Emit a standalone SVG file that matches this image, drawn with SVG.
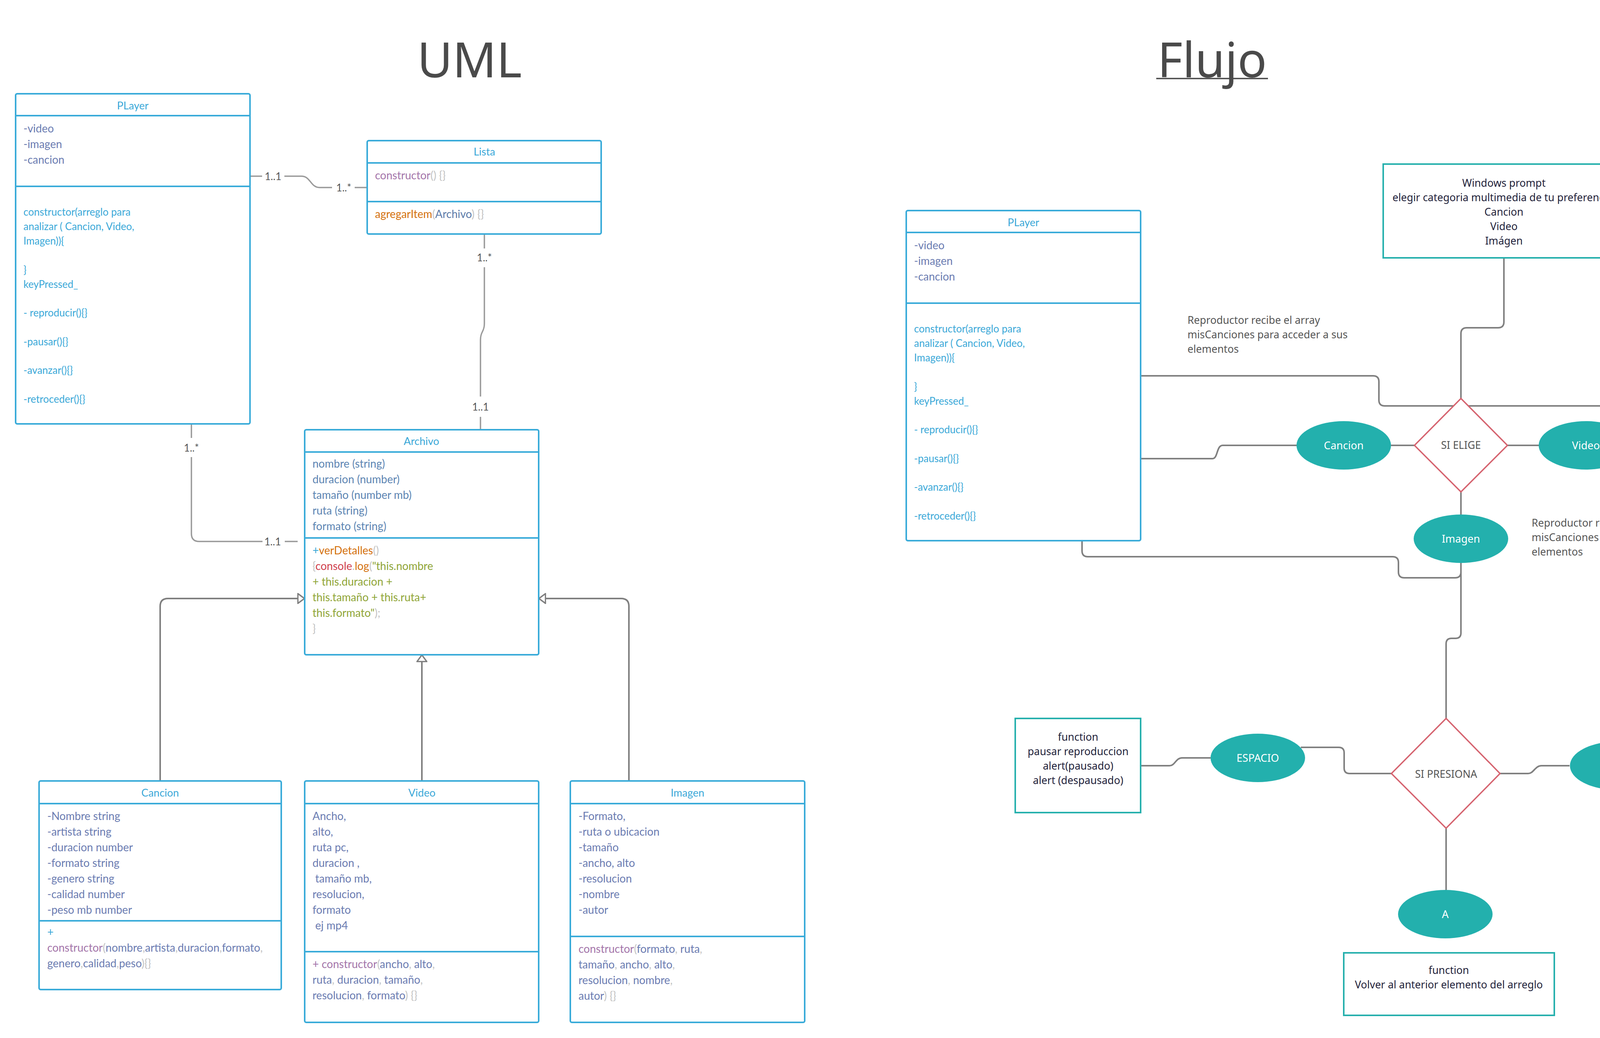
<svg xmlns="http://www.w3.org/2000/svg" width="4880" height="2657" viewBox="0 0 4880 2657">
<defs>
<style>
.box{fill:#fff;stroke:#39abd9;stroke-width:4}
.dv{stroke:#39abd9;stroke-width:4}
.t{font-family:Lato,"Open Sans",sans-serif;font-size:28px}
.s26{font-size:26px}
.hd{font-family:Lato,"Open Sans",sans-serif;font-size:27px;fill:#3aa8d8;text-anchor:middle}
.sl{fill:#6a7bb1}
.sa{fill:#5b84b2}
.sb{fill:#5b7aa8}
.bl{fill:#3aa8d8}
.mv{fill:#a374a9}
.gr{fill:#c2c2c2}
.or{fill:#d4700c}
.rd{fill:#cf3e4c}
.ol{fill:#8fa536}
.lbl{font-family:Lato,"Open Sans",sans-serif;font-size:26px;fill:#555;text-anchor:middle}
.as{fill:none;stroke:#9a9a9a;stroke-width:3.5}
.ih{fill:none;stroke:#7f7f7f;stroke-width:4}
.fl{fill:none;stroke:#808080;stroke-width:4}
.tb{fill:#fff;stroke:#26b0ad;stroke-width:4}
.dm{fill:#fff;stroke:#d5636f;stroke-width:3.5}
.el{fill:#23b0ad}
.n{font-family:"Noto Sans","Open Sans",sans-serif;font-size:26.5px}
.nw{fill:#fff;text-anchor:middle;font-size:27px}
.nd{fill:#1f1f3a;text-anchor:middle}
.ng{fill:#555}
.ttl{font-family:"Noto Sans","Open Sans",sans-serif;font-size:124px;fill:#4a4a4a;text-anchor:middle}
</style>
<marker id="tri" viewBox="0 0 20 28" refX="19" refY="14" markerWidth="20" markerHeight="28" orient="auto" markerUnits="userSpaceOnUse">
<path d="M1.5,1.5 L18.5,14 L1.5,26.5 Z" fill="#fff" stroke="#7f7f7f" stroke-width="3.5"/>
</marker>
<g id="playerClass">
<rect class="box" x="40" y="240" width="600" height="845" rx="4"/>
<line class="dv" x1="40" y1="296" x2="640" y2="296"/>
<line class="dv" x1="40" y1="477" x2="640" y2="477"/>
<text class="hd" x="340" y="280">PLayer</text>
<text class="t sl" x="60" y="339">-video</text>
<text class="t sl" x="60" y="379">-imagen</text>
<text class="t sl" x="60" y="419">-cancion</text>
<text class="t s26 bl" x="60" y="552">constructor(arreglo para</text>
<text class="t s26 bl" x="60" y="589">analizar ( Cancion, Video,</text>
<text class="t s26 bl" x="60" y="626">Imagen)){</text>
<text class="t s26 bl" x="60" y="700">}</text>
<text class="t s26 bl" x="60" y="737">keyPressed_</text>
<text class="t s26 bl" x="60" y="810">- reproducir(){}</text>
<text class="t s26 bl" x="60" y="884">-pausar(){}</text>
<text class="t s26 bl" x="60" y="957">-avanzar(){}</text>
<text class="t s26 bl" x="60" y="1031">-retroceder(){}</text>
</g>
</defs>

<g id="titles">
<text class="ttl" x="1202" y="198">UML</text>
<text class="ttl" x="3103" y="198">Flujo</text>
<line x1="2960" y1="201" x2="3246" y2="201" stroke="#4a4a4a" stroke-width="3.5"/>
</g>

<g id="connectors">
<path class="as" d="M640 451 H671"/>
<path class="as" d="M728 451 H772 C795 451 795 480 818 480 H850"/>
<path class="as" d="M908 480 H940"/>
<path class="as" d="M1240 599 V636"/>
<path class="as" d="M1240 684 V828 C1240 850 1230 848 1230 870 V1015"/>
<path class="as" d="M1230 1067 V1100"/>
<path class="as" d="M490 1085 V1121"/>
<path class="as" d="M490 1170 V1366 Q490 1386 510 1386 H672"/>
<path class="as" d="M729 1386 H762"/>
<text class="lbl" x="699" y="461">1..1</text>
<text class="lbl" x="880" y="490">1..*</text>
<text class="lbl" x="1240" y="669">1..*</text>
<text class="lbl" x="1230" y="1051">1..1</text>
<text class="lbl" x="490" y="1156">1..*</text>
<text class="lbl" x="698" y="1396">1..1</text>
<path class="ih" d="M410 1999 V1552 Q410 1532 430 1532 H780" marker-end="url(#tri)"/>
<path class="ih" d="M1610 1999 V1552 Q1610 1532 1590 1532 H1379" marker-end="url(#tri)"/>
<path class="ih" d="M1080 1999 V1676" marker-end="url(#tri)"/>

<path class="fl" d="M2920 962 H3515 Q3530 962 3530 977 V1024 Q3530 1039 3545 1039 H4190 Q4205 1039 4205 1054 V1098 Q4205 1112 4191 1112 H4167"/>
<path class="fl" d="M2920 1174 H3104 C3118 1174 3114 1140 3130 1140 H3320"/>
<path class="fl" d="M3561 1140 H3621"/>
<path class="fl" d="M3859 1140 H3940"/>
<path class="fl" d="M3850 660 V824 Q3850 839 3835 839 H3755 Q3740 839 3740 854 V1020"/>
<path class="fl" d="M3740 1259 V1317"/>
<path class="fl" d="M2770 1384 V1410 Q2770 1425 2785 1425 H3565 Q3580 1425 3580 1440 V1464 Q3580 1479 3595 1479 H3725 Q3740 1479 3740 1464 V1441"/>
<path class="fl" d="M3740 1441 V1620 Q3740 1634 3726 1634 H3716 Q3702 1634 3702 1648 V1839"/>
<path class="fl" d="M2920 1960 H2994 C3008 1960 3010 1940 3026 1940 H3099"/>
<path class="fl" d="M3330 1913 H3427 Q3441 1913 3441 1927 V1966 Q3441 1980 3455 1980 H3562"/>
<path class="fl" d="M3840 1980 H3912 C3926 1980 3930 1960 3946 1960 H4018"/>
<path class="fl" d="M3702 2120 V2278"/>
</g>

<g id="uml-player"><use href="#playerClass"/></g>

<g id="uml-lista">
<rect class="box" x="940" y="360" width="599" height="239" rx="4"/>
<line class="dv" x1="940" y1="417" x2="1539" y2="417"/>
<line class="dv" x1="940" y1="516" x2="1539" y2="516"/>
<text class="hd" x="1240" y="398">Lista</text>
<text class="t" x="960" y="459"><tspan class="mv">constructor</tspan><tspan class="gr">() {}</tspan></text>
<text class="t" x="960" y="558"><tspan class="or">agregarItem</tspan><tspan class="gr">(</tspan><tspan class="sb">Archivo</tspan><tspan class="gr">) {}</tspan></text>
</g>

<g id="uml-archivo">
<rect class="box" x="780" y="1100" width="599" height="576" rx="4"/>
<line class="dv" x1="780" y1="1157" x2="1379" y2="1157"/>
<line class="dv" x1="780" y1="1377" x2="1379" y2="1377"/>
<text class="hd" x="1079" y="1139">Archivo</text>
<text class="t sa" x="800" y="1197">nombre (string)</text>
<text class="t sa" x="800" y="1237">duracion (number)</text>
<text class="t sa" x="800" y="1277">tamaño (number mb)</text>
<text class="t sa" x="800" y="1317">ruta (string)</text>
<text class="t sa" x="800" y="1357">formato (string)</text>
<text class="t" x="800" y="1419"><tspan class="bl">+</tspan><tspan class="or">verDetalles</tspan><tspan class="gr">()</tspan></text>
<text class="t" x="800" y="1459"><tspan class="gr">{</tspan><tspan class="rd">console</tspan><tspan class="gr">.</tspan><tspan class="or">log</tspan><tspan class="gr">(</tspan><tspan class="ol">"this.nombre</tspan></text>
<text class="t ol" x="800" y="1499">+ this.duracion +</text>
<text class="t ol" x="800" y="1539">this.tamaño + this.ruta+</text>
<text class="t" x="800" y="1579"><tspan class="ol">this.formato"</tspan><tspan class="gr">);</tspan></text>
<text class="t gr" x="800" y="1619">}</text>
</g>

<g id="uml-cancion">
<rect class="box" x="100" y="1999" width="620" height="534" rx="4"/>
<line class="dv" x1="100" y1="2057" x2="720" y2="2057"/>
<line class="dv" x1="100" y1="2357" x2="720" y2="2357"/>
<text class="hd" x="410" y="2039">Cancion</text>
<text class="t sl" x="121" y="2099">-Nombre string</text>
<text class="t sl" x="121" y="2139">-artista string</text>
<text class="t sl" x="121" y="2179">-duracion number</text>
<text class="t sl" x="121" y="2219">-formato string</text>
<text class="t sl" x="121" y="2259">-genero string</text>
<text class="t sl" x="121" y="2299">-calidad number</text>
<text class="t sl" x="121" y="2339">-peso mb number</text>
<text class="t bl" x="121" y="2396">+</text>
<text class="t" x="121" y="2436"><tspan class="mv">constructor</tspan><tspan class="gr">(</tspan><tspan class="sl">nombre</tspan><tspan class="gr">,</tspan><tspan class="sl">artista</tspan><tspan class="gr">,</tspan><tspan class="sl">duracion</tspan><tspan class="gr">,</tspan><tspan class="sl">formato</tspan><tspan class="gr">,</tspan></text>
<text class="t" x="121" y="2476"><tspan class="sl">genero</tspan><tspan class="gr">,</tspan><tspan class="sl">calidad</tspan><tspan class="gr">,</tspan><tspan class="sl">peso</tspan><tspan class="gr">){}</tspan></text>
</g>

<g id="uml-video">
<rect class="box" x="780" y="1999" width="599" height="618" rx="4"/>
<line class="dv" x1="780" y1="2057" x2="1379" y2="2057"/>
<line class="dv" x1="780" y1="2436" x2="1379" y2="2436"/>
<text class="hd" x="1080" y="2039">Video</text>
<text class="t sl" x="800" y="2099">Ancho,</text>
<text class="t sl" x="800" y="2139">alto,</text>
<text class="t sl" x="800" y="2179">ruta pc,</text>
<text class="t sl" x="800" y="2219">duracion ,</text>
<text class="t sl" x="807" y="2259">tamaño mb,</text>
<text class="t sl" x="800" y="2299">resolucion,</text>
<text class="t sl" x="800" y="2339">formato</text>
<text class="t sl" x="807" y="2379">ej mp4</text>
<text class="t" x="800" y="2478"><tspan class="mv">+ constructor</tspan><tspan class="gr">(</tspan><tspan class="sl">ancho</tspan><tspan class="gr">, </tspan><tspan class="sl">alto</tspan><tspan class="gr">,</tspan></text>
<text class="t" x="800" y="2518"><tspan class="sl">ruta</tspan><tspan class="gr">, </tspan><tspan class="sl">duracion</tspan><tspan class="gr">, </tspan><tspan class="sl">tamaño</tspan><tspan class="gr">,</tspan></text>
<text class="t" x="800" y="2558"><tspan class="sl">resolucion</tspan><tspan class="gr">, </tspan><tspan class="sl">formato</tspan><tspan class="gr">) {}</tspan></text>
</g>

<g id="uml-imagen">
<rect class="box" x="1460" y="1999" width="600" height="618" rx="4"/>
<line class="dv" x1="1460" y1="2057" x2="2060" y2="2057"/>
<line class="dv" x1="1460" y1="2397" x2="2060" y2="2397"/>
<text class="hd" x="1760" y="2039">Imagen</text>
<text class="t sl" x="1481" y="2099">-Formato,</text>
<text class="t sl" x="1481" y="2139">-ruta o ubicacion</text>
<text class="t sl" x="1481" y="2179">-tamaño</text>
<text class="t sl" x="1481" y="2219">-ancho, alto</text>
<text class="t sl" x="1481" y="2259">-resolucion</text>
<text class="t sl" x="1481" y="2299">-nombre</text>
<text class="t sl" x="1481" y="2339">-autor</text>
<text class="t" x="1481" y="2439"><tspan class="mv">constructor</tspan><tspan class="gr">(</tspan><tspan class="sl">formato</tspan><tspan class="gr">, </tspan><tspan class="sl">ruta</tspan><tspan class="gr">,</tspan></text>
<text class="t" x="1481" y="2479"><tspan class="sl">tamaño</tspan><tspan class="gr">, </tspan><tspan class="sl">ancho</tspan><tspan class="gr">, </tspan><tspan class="sl">alto</tspan><tspan class="gr">,</tspan></text>
<text class="t" x="1481" y="2519"><tspan class="sl">resolucion</tspan><tspan class="gr">, </tspan><tspan class="sl">nombre</tspan><tspan class="gr">,</tspan></text>
<text class="t" x="1481" y="2559"><tspan class="sl">autor</tspan><tspan class="gr">) {}</tspan></text>
</g>

<g id="flujo-player"><use href="#playerClass" transform="translate(2280,299)"/></g>

<g id="flujo-prompt">
<rect class="tb" x="3541" y="420" width="619" height="240"/>
<text class="n nd" x="3850" y="478">Windows prompt</text>
<text class="n nd" x="3850" y="515">elegir categoria multimedia de tu preferencia:</text>
<text class="n nd" x="3850" y="552">Cancion</text>
<text class="n nd" x="3850" y="589">Video</text>
<text class="n nd" x="3850" y="626">Imágen</text>
</g>

<g id="flujo-sielige">
<polygon class="dm" points="3740,1020 3859,1140 3740,1259 3621,1140"/>
<text class="n ng" x="3740" y="1149" text-anchor="middle">SI ELIGE</text>
</g>
<g id="flujo-cancion">
<ellipse class="el" cx="3440" cy="1140" rx="121" ry="62"/>
<text class="n nw" x="3440" y="1150">Cancion</text>
</g>
<g id="flujo-video">
<ellipse class="el" cx="4060" cy="1140" rx="121" ry="62"/>
<text class="n nw" x="4060" y="1150">Video</text>
</g>
<g id="flujo-imagen">
<ellipse class="el" cx="3740" cy="1379" rx="121" ry="62"/>
<text class="n nw" x="3740" y="1389">Imagen</text>
</g>

<g id="note-canciones">
<text class="n ng" x="3040" y="829">Reproductor recibe el array</text>
<text class="n ng" x="3040" y="866">misCanciones para acceder a sus</text>
<text class="n ng" x="3040" y="903">elementos</text>
</g>
<g id="note-videos">
<text class="n ng" x="4241" y="1089">Reproductor recibe el array</text>
<text class="n ng" x="4241" y="1126">misVideos para acceder a sus</text>
<text class="n ng" x="4241" y="1163">elementos</text>
</g>
<g id="note-imagen">
<text class="n ng" x="3921" y="1348">Reproductor recibe el array</text>
<text class="n ng" x="3921" y="1385">misCanciones para acceder a sus</text>
<text class="n ng" x="3921" y="1422">elementos</text>
</g>

<g id="flujo-sipresiona">
<polygon class="dm" points="3702,1839 3840,1980 3702,2120 3562,1980"/>
<text class="n ng" x="3702" y="1991" text-anchor="middle">SI PRESIONA</text>
</g>
<g id="flujo-espacio">
<ellipse class="el" cx="3220" cy="1940" rx="121" ry="62"/>
<text class="n nw" x="3220" y="1950">ESPACIO</text>
</g>
<g id="flujo-d">
<ellipse class="el" cx="4140" cy="1960" rx="121" ry="62"/>
<text class="n nw" x="4140" y="1970">D</text>
</g>
<g id="flujo-a">
<ellipse class="el" cx="3700" cy="2340" rx="121" ry="62"/>
<text class="n nw" x="3700" y="2350">A</text>
</g>

<g id="fn-pausar">
<rect class="tb" x="2599" y="1839" width="321" height="241"/>
<text class="n nd" x="2760" y="1896">function</text>
<text class="n nd" x="2760" y="1933">pausar reproduccion</text>
<text class="n nd" x="2760" y="1970">alert(pausado)</text>
<text class="n nd" x="2760" y="2007">alert (despausado)</text>
</g>
<g id="fn-siguiente">
<rect class="tb" x="4299" y="1879" width="541" height="161"/>
<text class="n nd" x="4569" y="1933">function</text>
<text class="n nd" x="4569" y="1970">Pasar al siguiente elemento del arreglo</text>
</g>
<g id="fn-anterior">
<rect class="tb" x="3440" y="2439" width="539" height="160"/>
<text class="n nd" x="3709" y="2493">function</text>
<text class="n nd" x="3709" y="2530">Volver al anterior elemento del arreglo</text>
</g>
</svg>
